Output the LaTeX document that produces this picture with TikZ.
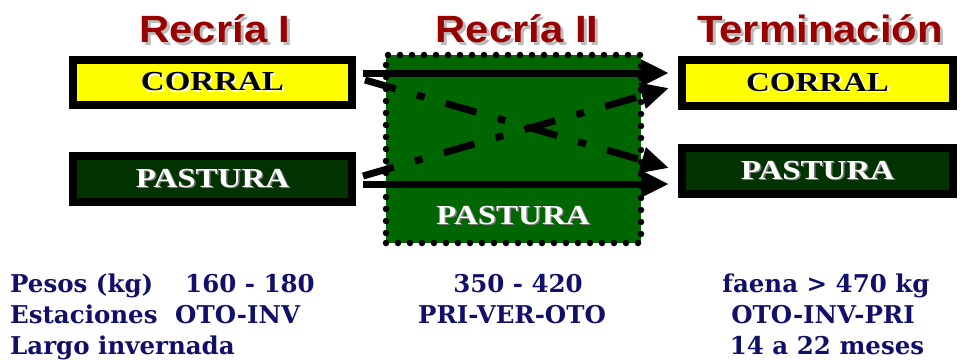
\documentclass[tikz,border=0pt]{standalone}
\usepackage{fontspec}
\usetikzlibrary{arrows.meta}
\newfontfamily\titlefont[FakeStretch=1.1]{Liberation Sans}
\newfontfamily\boxfont[FakeStretch=1.2]{Liberation Serif}
\newfontfamily\infofont{DejaVu Serif}
\definecolor{wine}{HTML}{990000}
\definecolor{navy}{HTML}{10106A}
\definecolor{corn}{HTML}{FFFF00}
\definecolor{grass}{HTML}{003300}
\definecolor{field}{HTML}{006600}
\definecolor{haze}{HTML}{BBBBBB}
\definecolor{smoke}{HTML}{777777}
\newcommand{\shadowed}[4]{\makebox[0pt][l]{\hspace{#1}\raisebox{-#1}{\color{#2}#4}}{\color{#3}#4}}

\begin{document}
\begin{tikzpicture}[x=1pt,y=-1pt,
              stage/.style={font=\titlefont\bfseries\fontsize{38}{40}\selectfont,inner sep=0},
              boxtext/.style={font=\boxfont\bfseries\fontsize{27.5}{29}\selectfont,inner sep=0},
              yard/.style={boxtext,draw=black,line width=8pt,fill=corn,minimum width=279pt,
                           minimum height=45pt},
              grazing/.style={yard,fill=grass,minimum height=46pt},
              midbox/.style={draw=black,fill=field,line width=6.5pt,line cap=round,
                             dash pattern=on 0pt off 12pt,minimum width=255pt,minimum height=188pt},
              flow/.style={line width=7pt,-{Triangle[length=28pt,width=25pt]}},
              swap/.style={flow,dash pattern=on 32pt off 22pt on 8pt off 22pt},
              facts/.style={text=navy,font=\infofont\bfseries\fontsize{24.5}{26}\selectfont,inner sep=0}]
              \useasboundingbox (0,0) rectangle (960,361);
              \node[stage] (t1) at (215,30) {\shadowed{3pt}{haze}{wine}{Recría I}};
              \node[stage] (t2) at (517,30) {\shadowed{3pt}{haze}{wine}{Recría II}};
              \node[stage] (t3) at (820,30) {\shadowed{3pt}{haze}{wine}{Terminación}};
              \node[yard] (c1) at (212.5,82.5) {\shadowed{1.5pt}{white}{black}{CORRAL}};
              \node[grazing] (p1) at (212.5,179) {\shadowed{1.5pt}{smoke}{white}{PASTURA}};
              \node[midbox] (mid) at (513.5,149) {};
              \node[boxtext] (midlbl) at (513,216) {\shadowed{1.5pt}{smoke}{white}{PASTURA}};
              \node[yard,minimum width=271pt,minimum height=46pt] (c2) at (817.5,83) {\shadowed{1.5pt}{white}{black}{CORRAL}};
              \node[grazing,minimum width=271pt] (p2) at (817.5,171) {\shadowed{1.5pt}{smoke}{white}{PASTURA}};
              \draw[flow] ([xshift=7pt,yshift=9.5pt]c1.east) -- ([xshift=-9pt,yshift=10pt]c2.west);
              \draw[flow] ([xshift=7pt,yshift=-5pt]p1.east) -- ([xshift=-9pt,yshift=-13pt]p2.west);
              \draw[swap] ([xshift=9pt,yshift=2.5pt]c1.east) -- ([xshift=-9pt,yshift=3pt]p2.west);
              \draw[swap] ([xshift=7pt,yshift=3pt]p1.east) -- ([xshift=-9pt,yshift=-5pt]c2.west);
              \node[facts,anchor=base west] (w0) at (10,292) {Pesos (kg)};
              \node[facts,anchor=base west] (w1) at (185,292) {160 - 180};
              \node[facts,anchor=base] (w2) at (518,292) {350 - 420};
              \node[facts,anchor=base] (w3) at (826,292) {faena > 470 kg};
              \node[facts,anchor=base west] (s0) at (10,323) {Estaciones};
              \node[facts,anchor=base west] (s1) at (175,323) {OTO-INV};
              \node[facts,anchor=base] (s2) at (512,323) {PRI-VER-OTO};
              \node[facts,anchor=base] (s3) at (823,323) {OTO-INV-PRI};
              \node[facts,anchor=base west] (l0) at (10,354) {Largo invernada};
              \node[facts,anchor=base] (l3) at (827,354) {14 a 22 meses};
            \end{tikzpicture}
\end{document}
